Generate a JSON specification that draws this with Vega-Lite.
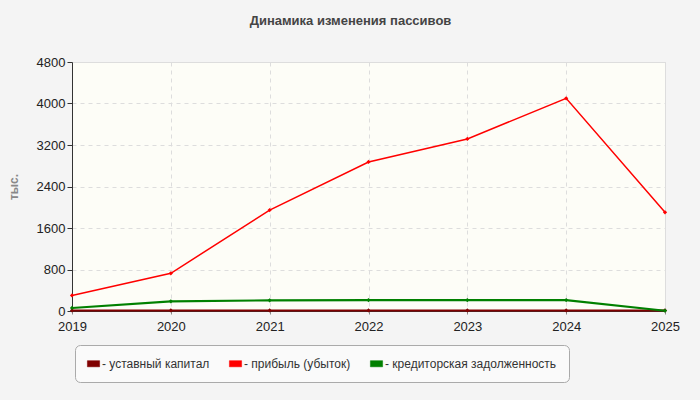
{
  "$schema": "https://vega.github.io/schema/vega-lite/v6.json",
  "autosize": {"type": "none"},
  "width": 593,
  "height": 249,
  "padding": {"left": 72, "top": 62, "right": 35, "bottom": 89},
  "background": "#f4f4f4",
  "title": {
    "text": "Динамика изменения пассивов",
    "font": "Liberation Sans",
    "fontSize": 13,
    "fontWeight": "bold",
    "color": "#444444",
    "anchor": "middle",
    "dx": -18,
    "offset": 28
  },
  "config": {
    "font": "Liberation Sans",
    "view": {"fill": "#fdfdf7", "stroke": "#dddddd"}
  },
  "data": {
    "values": [
      {"year": 2019, "series": "уставный капитал", "value": 10},
      {"year": 2020, "series": "уставный капитал", "value": 10},
      {"year": 2021, "series": "уставный капитал", "value": 10},
      {"year": 2022, "series": "уставный капитал", "value": 10},
      {"year": 2023, "series": "уставный капитал", "value": 10},
      {"year": 2024, "series": "уставный капитал", "value": 10},
      {"year": 2025, "series": "уставный капитал", "value": 10},
      {"year": 2019, "series": "прибыль (убыток)", "value": 300},
      {"year": 2020, "series": "прибыль (убыток)", "value": 727},
      {"year": 2021, "series": "прибыль (убыток)", "value": 1945},
      {"year": 2022, "series": "прибыль (убыток)", "value": 2873},
      {"year": 2023, "series": "прибыль (убыток)", "value": 3316},
      {"year": 2024, "series": "прибыль (убыток)", "value": 4100},
      {"year": 2025, "series": "прибыль (убыток)", "value": 1903},
      {"year": 2019, "series": "кредиторская задолженность", "value": 58},
      {"year": 2020, "series": "кредиторская задолженность", "value": 187},
      {"year": 2021, "series": "кредиторская задолженность", "value": 205},
      {"year": 2022, "series": "кредиторская задолженность", "value": 210},
      {"year": 2023, "series": "кредиторская задолженность", "value": 210},
      {"year": 2024, "series": "кредиторская задолженность", "value": 210},
      {"year": 2025, "series": "кредиторская задолженность", "value": 5}
    ]
  },
  "encoding": {
    "x": {
      "field": "year",
      "type": "quantitative",
      "scale": {"domain": [2019, 2025], "nice": false, "zero": false},
      "axis": {
        "title": null,
        "values": [2019, 2020, 2021, 2022, 2023, 2024, 2025],
        "format": "d",
        "labelFlush": false,
        "labelFontSize": 13,
        "labelColor": "#222222",
        "labelPadding": 6,
        "tickSize": 3,
        "domainColor": "#333333",
        "gridColor": "#dddddd",
        "gridDash": [4, 4]
      }
    },
    "y": {
      "field": "value",
      "type": "quantitative",
      "scale": {"domain": [0, 4800], "nice": false},
      "axis": {
        "title": "тыс.",
        "titleColor": "#888888",
        "titleFontSize": 12,
        "titleFontWeight": "bold",
        "titlePadding": 16,
        "values": [0, 800, 1600, 2400, 3200, 4000, 4800],
        "format": "d",
        "labelFontSize": 13,
        "labelColor": "#222222",
        "labelFlush": false,
        "tickSize": 5,
        "tickColor": "#333333",
        "domainColor": "#333333",
        "gridColor": "#dddddd",
        "gridDash": [4, 4]
      }
    },
    "color": {
      "field": "series",
      "type": "nominal",
      "scale": {
        "domain": ["уставный капитал", "прибыль (убыток)", "кредиторская задолженность"],
        "range": ["#800000", "#ff0000", "#008000"]
      },
      "legend": {
        "title": null,
        "orient": "none",
        "direction": "horizontal",
        "legendX": 3,
        "legendY": 283,
        "padding": 12,
        "fillColor": "#fafafa",
        "strokeColor": "#aaaaaa",
        "cornerRadius": 5,
        "labelExpr": "'- ' + datum.label",
        "labelFontSize": 12,
        "labelLimit": 300,
        "labelColor": "#333333",
        "labelOffset": 2,
        "columnPadding": 18,
        "symbolType": "M-1,-0.5H1V0.5H-1Z",
        "symbolSize": 150,
        "symbolStrokeColor": "#999999",
        "symbolStrokeWidth": 0.5,
        "symbolOpacity": 1
      }
    }
  },
  "layer": [
    {
      "mark": {"type": "line"},
      "encoding": {
        "strokeWidth": {
          "condition": {"test": "datum.series === 'прибыль (убыток)'", "value": 1.5},
          "value": 2.2
        }
      }
    },
    {
      "mark": {"type": "point", "shape": "diamond", "filled": true, "size": 18, "opacity": 1}
    }
  ]
}
